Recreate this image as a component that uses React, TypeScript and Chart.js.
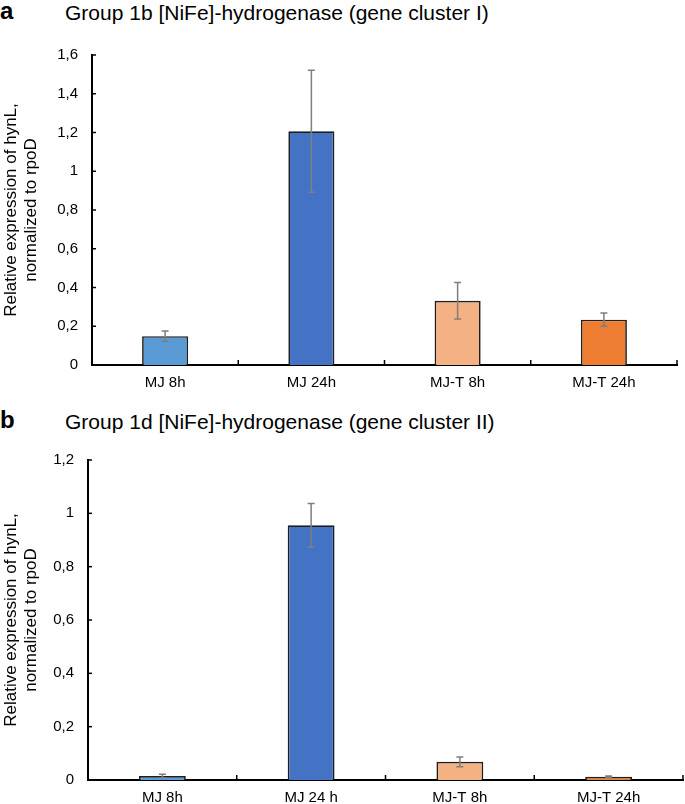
import React, { useEffect, useRef } from "react";
import { Chart, registerables } from "chart.js";

Chart.register(...registerables);

const categoriesA = ["MJ 8h", "MJ 24h", "MJ-T 8h", "MJ-T 24h"];
const valuesA = [0.149, 1.206, 0.332, 0.234];
const errorsA = [0.027, 0.315, 0.094, 0.034];
const yTicksA = ["0", "0,2", "0,4", "0,6", "0,8", "1", "1,2", "1,4", "1,6"];

const categoriesB = ["MJ 8h", "MJ 24 h", "MJ-T 8h", "MJ-T 24h"];
const valuesB = [0.015, 0.955, 0.068, 0.012];
const errorsB = [0.007, 0.082, 0.018, 0.003];
const yTicksB = ["0", "0,2", "0,4", "0,6", "0,8", "1", "1,2"];

const barColors = ["#5B9BD5", "#4472C4", "#F4B183", "#ED7D31"];
const yTitle = ["Relative expression of hynL,", "normalized to rpoD"];

const FONT = "'Liberation Sans', Arial, sans-serif";

const decorPlugin = {
  id: "decor",
  afterDatasetsDraw(chart: any, _args: any, opts: any) {
    const ctx = chart.ctx;
    const y = chart.scales.y;
    const ca = chart.chartArea;
    const errs: number[] = opts.errors || [];
    const meta = chart.getDatasetMeta(0);
    const data = chart.data.datasets[0].data as number[];
    ctx.save();
    // error bars
    ctx.strokeStyle = "#7f7f7f";
    ctx.lineWidth = 1.5;
    meta.data.forEach((el: any, i: number) => {
      const v = data[i];
      const e = errs[i] || 0;
      const px = el.x;
      const top = y.getPixelForValue(v + e);
      const bot = y.getPixelForValue(Math.max(0, v - e));
      ctx.beginPath();
      ctx.moveTo(px, top);
      ctx.lineTo(px, bot);
      ctx.moveTo(px - 3.5, top);
      ctx.lineTo(px + 3.5, top);
      ctx.moveTo(px - 3.5, bot);
      ctx.lineTo(px + 3.5, bot);
      ctx.stroke();
    });
    // inner ticks
    ctx.strokeStyle = "#000";
    ctx.lineWidth = 1.5;
    y.ticks.forEach((_t: any, i: number) => {
      if (i === 0) return;
      const py = y.getPixelForTick(i);
      ctx.beginPath();
      ctx.moveTo(ca.left, py);
      ctx.lineTo(ca.left + 4, py);
      ctx.stroke();
    });
    const n = chart.data.labels.length;
    for (let i = 1; i <= n; i++) {
      const px = ca.left + ((ca.right - ca.left) * i) / n;
      ctx.beginPath();
      ctx.moveTo(px, ca.bottom);
      ctx.lineTo(px, ca.bottom - 5);
      ctx.stroke();
    }
    ctx.restore();
  },
};

function makeConfig(
  labels: string[],
  values: number[],
  errors: number[],
  yMax: number,
  yTicks: string[],
  yWidth: number,
  xHeight: number,
  padTop: number,
  padRight: number
): any {
  return {
    type: "bar",
    data: {
      labels,
      datasets: [
        {
          data: values,
          backgroundColor: barColors,
          borderColor: "#1e1e1e",
          borderWidth: 1.7,
          categoryPercentage: 1,
          barPercentage: 0.315,
        },
      ],
    },
    options: {
      animation: false,
      responsive: false,
      maintainAspectRatio: false,
      layout: { padding: { top: padTop, right: padRight, left: 0, bottom: 0 } },
      plugins: {
        legend: { display: false },
        tooltip: { enabled: false },
        decor: { errors },
      },
      scales: {
        x: {
          grid: { display: false, drawTicks: false },
          border: { display: true, color: "#000", width: 2 },
          ticks: {
            color: "#000",
            font: { family: FONT, size: 15 },
            padding: 9,
            maxRotation: 0,
            autoSkip: false,
          },
          afterFit(scale: any) {
            scale.height = xHeight;
          },
        },
        y: {
          min: 0,
          max: yMax,
          grid: { display: false, drawTicks: false },
          border: { display: true, color: "#000", width: 2 },
          ticks: {
            stepSize: 0.2,
            color: "#000",
            font: { family: FONT, size: 15 },
            padding: 14,
            callback: (_v: any, i: number) => yTicks[i],
          },
          title: {
            display: true,
            text: yTitle,
            color: "#000",
            font: { family: FONT, size: 17, lineHeight: 1.15 },
            padding: { top: 2, bottom: 0 },
          },
          afterFit(scale: any) {
            scale.width = yWidth;
          },
        },
      },
    },
    plugins: [decorPlugin],
  };
}

function Panel(props: { top: number; height: number; config: any }) {
  const ref = useRef<HTMLCanvasElement>(null);
  useEffect(() => {
    const chart = new Chart(ref.current as HTMLCanvasElement, props.config);
    return () => chart.destroy();
  }, []);
  return (
    <canvas
      ref={ref}
      width={685}
      height={props.height}
      style={{ position: "absolute", left: 0, top: props.top, width: 685, height: props.height }}
    />
  );
}

const letterStyle: React.CSSProperties = {
  position: "absolute",
  fontFamily: FONT,
  fontWeight: "bold",
  fontSize: 24,
  color: "#000",
  lineHeight: 1,
};
const titleStyle: React.CSSProperties = {
  position: "absolute",
  fontFamily: FONT,
  fontSize: 21,
  color: "#000",
  lineHeight: 1,
  whiteSpace: "nowrap",
};

export default function App() {
  useEffect(() => {
    document.body.style.margin = "0";
  }, []);
  const cfgA = makeConfig(categoriesA, valuesA, errorsA, 1.6, yTicksA, 92, 35, 25, 8);
  const cfgB = makeConfig(categoriesB, valuesB, errorsB, 1.2, yTicksB, 88, 24, 30, 2);
  return (
    <div style={{ position: "relative", width: 685, height: 804, background: "#fff", overflow: "hidden" }}>
      <div style={{ ...letterStyle, left: 0, top: -1 }}>a</div>
      <div style={{ ...titleStyle, left: 65, top: 2 }}>Group 1b [NiFe]-hydrogenase (gene cluster I)</div>
      <Panel top={30} height={370} config={cfgA} />
      <div style={{ ...letterStyle, left: 0, top: 408 }}>b</div>
      <div style={{ ...titleStyle, left: 65, top: 411 }}>Group 1d [NiFe]-hydrogenase (gene cluster II)</div>
      <Panel top={430} height={374} config={cfgB} />
    </div>
  );
}
